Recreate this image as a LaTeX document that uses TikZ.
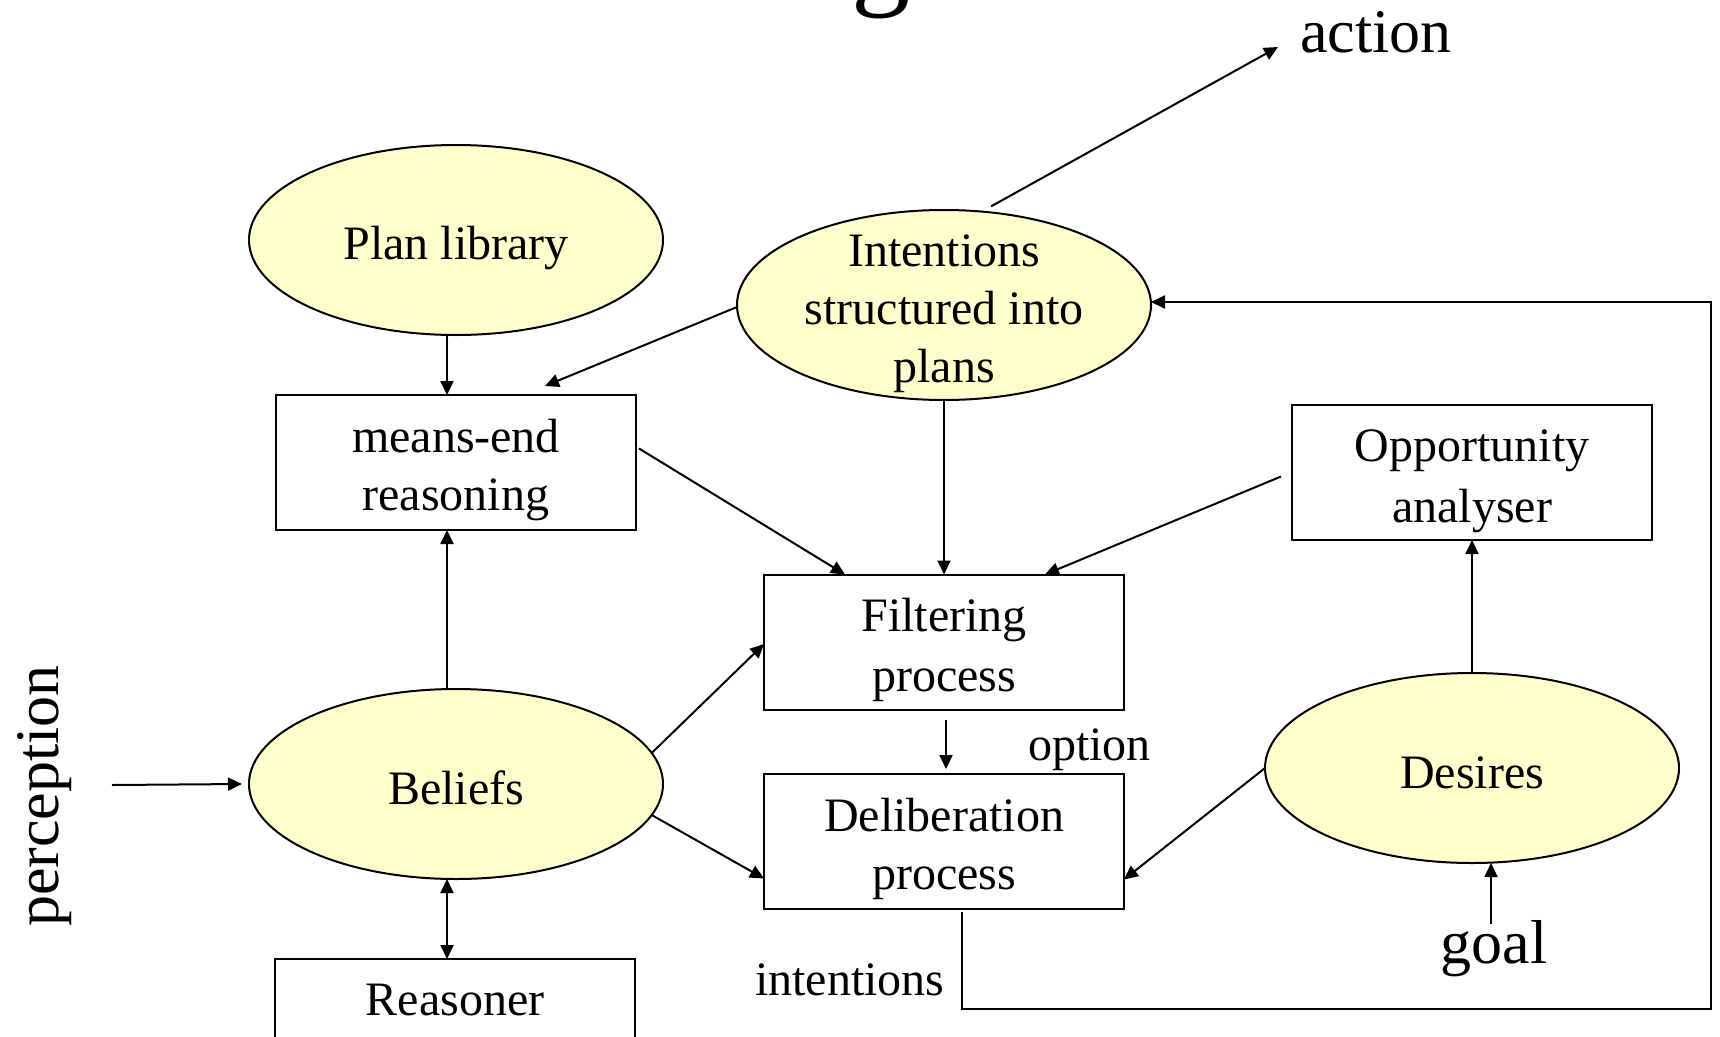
\documentclass[tikz,border=0pt]{standalone}
\usepackage{fontspec}
\setmainfont{Liberation Serif}
\usetikzlibrary{shapes.geometric,arrows.meta}
\definecolor{bdiyellow}{HTML}{FFFFCC}
% text sizes
\newcommand{\bdimain}{\fontsize{48pt}{58pt}\selectfont}
\newcommand{\bdibig}{\fontsize{62pt}{74pt}\selectfont}
\newcommand{\bdititle}{\fontsize{118pt}{140pt}\selectfont}
% fixed line height so every text line sits the same way
\newcommand{\bdistrut}{\rule[-9pt]{0pt}{58pt}}

\begin{document}
\begin{tikzpicture}[x=1pt,y=-1pt,
  every node/.style={inner sep=0pt, outer sep=0pt},
  ell/.style={ellipse, draw, line width=2pt, fill=bdiyellow,
              minimum width=414pt, minimum height=190pt},
  proc/.style={rectangle, draw, line width=2pt, minimum width=360pt,
               minimum height=135pt, align=center, font=\bdimain},
  lbl/.style={align=center, font=\bdimain},
  arr/.style={line width=2pt, -{Triangle[length=14pt,width=13pt]}},
  biarr/.style={line width=2pt, {Triangle[length=14pt,width=13pt]}-{Triangle[length=14pt,width=13pt]}},
  ]
  \useasboundingbox (0,0) rectangle (1720,1036);
  \clip (0,0) rectangle (1720,1036);

  % title, running off the top edge
  \node[font=\bdititle, anchor=base west] (title) at (534,-6) {BDI Agents};

  % attitudes
  \node[ell] (plan) at (456,240) {};
  \node[lbl] (plant) at (plan) {\bdistrut Plan library};
  \node[ell] (int) at (944,305) {};
  \node[lbl] (intt) at (int) {\bdistrut Intentions\\\bdistrut structured into\\\bdistrut plans};
  \node[ell] (bel) at (456,784) {};
  \node[lbl] (belt) at (bel) {\bdistrut Beliefs};
  \node[ell] (des) at (1472,768) {};
  \node[lbl] (dest) at (des) {\bdistrut Desires};

  % processes
  \node[proc] (me) at (456,462.5) {\bdistrut means-end\\\bdistrut reasoning};
  \node[proc] (filt) at (944,642) {\bdistrut Filtering\\\bdistrut process};
  \node[proc] (delib) at (944,841.5) {\bdistrut Deliberation\\\bdistrut process};
  \node[proc] (opp) at (1472,472.5) {\bdistrut Opportunity\\\bdistrut analyser};
  \node[draw, line width=2pt, minimum width=360pt, anchor=north, font=\bdimain,
        inner ysep=7pt, text depth=60pt] (reas) at (455,959) {\bdistrut Reasoner};

  % free labels
  \node[font=\bdibig, anchor=base west] (act) at (1300,52) {action};
  \node[font=\bdibig, anchor=base] (goal) at (1494,963) {goal};
  \node[font=\bdibig, rotate=90, anchor=base] (perc) at (58,796) {perception};
  \node[font=\bdimain, anchor=base west] (opt) at (1028,760) {option};
  \node[font=\bdimain, anchor=base west] (intl) at (755,995) {intentions};

  \coordinate (acttip) at (1278,47);
  \coordinate (percin) at (112,785);
  \coordinate (loopbr) at (1711,1009);

  % connectors
  \draw[arr] ([shift={(2,-6)}]int.64) -- (acttip);
  \draw[arr] (percin) -- ([xshift=-7pt]bel.west);
  \draw[arr] ([xshift=-9pt]plan.south) -- ([xshift=-9pt]me.north);
  \draw[arr] ([yshift=-2pt]int.west) -- ([xshift=89pt,yshift=9pt]me.north);
  \draw[arr] ([xshift=3pt,yshift=14pt]me.east) -- ([xshift=-99pt]filt.north);
  \draw[arr] (int.south) -- (filt.north);
  \draw[arr] ([xshift=-11pt,yshift=-4pt]opp.west) -- ([xshift=101pt]filt.north);
  \draw[arr] ([xshift=2pt,yshift=-10pt]filt.south) -- ([xshift=2pt,yshift=5pt]delib.north);
  \draw[arr] ([xshift=-9pt]bel.north) -- ([xshift=-9pt]me.south);
  \draw[arr] (bel.9) -- ([yshift=-2pt]filt.west);
  \draw[arr] (bel.-9) -- ([yshift=-37pt]delib.west);
  \draw[biarr] ([xshift=-9pt]bel.south) -- ([xshift=-8pt]reas.north);
  \draw[arr] (des.north) -- (opp.south);
  \draw[arr] (des.west) -- ([yshift=-38pt]delib.east);
  \draw[arr] ([xshift=-3pt,yshift=-4pt]goal.north) -- ([xshift=19pt]des.south);
  \draw[arr] ([xshift=18pt,yshift=-3pt]delib.south) |- (loopbr) |- ([yshift=3pt]int.east);
\end{tikzpicture}
\end{document}
